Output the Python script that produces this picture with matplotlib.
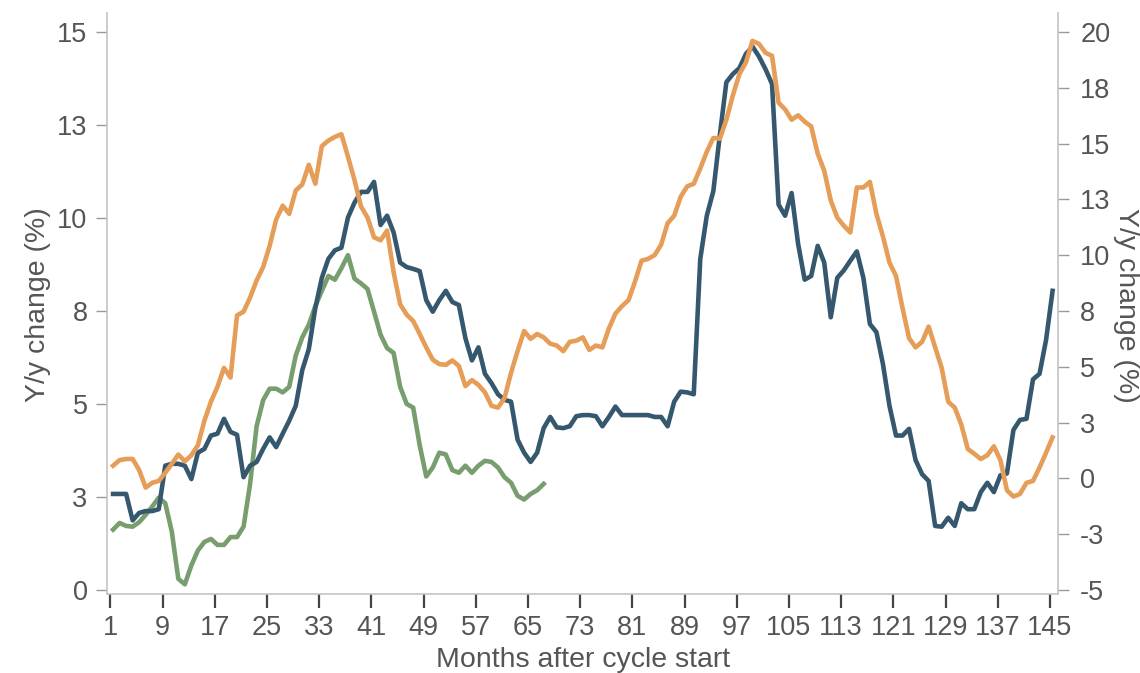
import numpy as np
import matplotlib
matplotlib.use('Agg')
import matplotlib.pyplot as plt
from matplotlib.ticker import FuncFormatter

plt.rcParams['font.family'] = ['Liberation Sans', 'DejaVu Sans']

# months after cycle start
months = np.arange(1, 146)
green_months = np.arange(1, 68)

blue = [
    2.58, 2.58, 2.58, 1.87, 2.07, 2.12, 2.12, 2.17, 3.34, 3.39,
    3.39, 3.34, 2.98, 3.69, 3.79, 4.15, 4.20, 4.60, 4.25, 4.17,
    3.03, 3.34, 3.44, 3.79, 4.10, 3.84, 4.20, 4.55, 4.95, 5.91,
    6.47, 7.58, 8.39, 8.90, 9.13, 9.20, 10.01, 10.41, 10.70, 10.70,
    10.97, 9.81, 10.06, 9.61, 8.80, 8.68, 8.63, 8.57, 7.79, 7.48,
    7.79, 8.04, 7.74, 7.66, 6.77, 6.17, 6.52, 5.81, 5.56, 5.26,
    5.11, 5.06, 4.04, 3.69, 3.44, 3.69, 4.35, 4.65, 4.37, 4.35,
    4.40, 4.67, 4.70, 4.70, 4.67, 4.40, 4.65, 4.93, 4.70, 4.70,
    4.70, 4.70, 4.70, 4.65, 4.65, 4.40, 5.06, 5.33, 5.31, 5.26,
    8.90, 10.06, 10.72, 12.23, 13.65, 13.87, 14.03, 14.41, 14.61, 14.34,
    14.00, 13.60, 10.36, 10.06, 10.67, 9.30, 8.34, 8.44, 9.25, 8.80,
    7.33, 8.39, 8.59, 8.85, 9.10, 8.39, 7.15, 6.93, 6.07, 4.95,
    4.15, 4.15, 4.33, 3.49, 3.11, 2.93, 1.72, 1.70, 1.94, 1.72,
    2.33, 2.17, 2.17, 2.63, 2.88, 2.63, 3.08, 3.13, 4.30, 4.57,
    4.60, 5.66, 5.81, 6.72, 8.04,
]

orange = [
    3.34, 3.49, 3.52, 3.52, 3.22, 2.75, 2.88, 2.93, 3.15, 3.39,
    3.64, 3.46, 3.62, 3.89, 4.55, 5.06, 5.46, 5.97, 5.71, 7.38,
    7.48, 7.86, 8.32, 8.68, 9.25, 9.96, 10.33, 10.11, 10.74, 10.90,
    11.43, 10.92, 11.93, 12.08, 12.18, 12.25, 11.65, 11.02, 10.31, 10.01,
    9.48, 9.40, 9.66, 8.54, 7.68, 7.40, 7.23, 6.88, 6.52, 6.19,
    6.07, 6.05, 6.17, 6.02, 5.48, 5.64, 5.51, 5.31, 4.95, 4.90,
    5.16, 5.84, 6.42, 6.96, 6.75, 6.88, 6.79, 6.62, 6.57, 6.42,
    6.67, 6.70, 6.79, 6.45, 6.57, 6.52, 7.03, 7.43, 7.63, 7.79,
    8.29, 8.85, 8.90, 9.00, 9.28, 9.86, 10.06, 10.57, 10.85, 10.92,
    11.33, 11.78, 12.15, 12.13, 12.64, 13.30, 13.87, 14.18, 14.76, 14.68,
    14.44, 14.36, 13.10, 12.92, 12.64, 12.76, 12.59, 12.46, 11.73, 11.27,
    10.47, 10.01, 9.79, 9.61, 10.82, 10.82, 10.97, 10.11, 9.50, 8.80,
    8.44, 7.58, 6.77, 6.52, 6.67, 7.08, 6.52, 5.97, 5.06, 4.90,
    4.45, 3.79, 3.66, 3.52, 3.62, 3.86, 3.49, 2.68, 2.51, 2.58,
    2.88, 2.93, 3.29, 3.69, 4.10,
]

green = [
    1.62, 1.80, 1.72, 1.70, 1.82, 2.02, 2.24, 2.48, 2.33, 1.57,
    0.30, 0.15, 0.66, 1.06, 1.29, 1.37, 1.21, 1.21, 1.42, 1.42,
    1.70, 2.85, 4.40, 5.10, 5.41, 5.41, 5.31, 5.46, 6.30, 6.79,
    7.13, 7.63, 8.04, 8.44, 8.34, 8.65, 9.00, 8.37, 8.24, 8.09,
    7.48, 6.86, 6.50, 6.37, 5.46, 5.00, 4.90, 3.89, 3.05, 3.29,
    3.69, 3.64, 3.22, 3.15, 3.34, 3.15, 3.34, 3.47, 3.44, 3.29,
    3.03, 2.88, 2.53, 2.43, 2.58, 2.68, 2.85,
]

x_ticks = np.arange(1, 146, 8)
left_ticks = np.arange(0, 15.1, 2.5)
right_ticks = np.arange(-5, 20.1, 2.5)

BLUE = '#36586f'
ORANGE = '#e59d58'
GREEN = '#789d6e'
TEXT = '#555555'
SPINE = '#c4c4c4'
TICK_FS = 19.5
LABEL_FS = 20.5


def half_up(v, pos=None):
    # labels are rounded half away from zero (2.5 -> 3, -2.5 -> -3)
    return '%d' % (np.sign(v) * np.floor(abs(v) + 0.5))


fig = plt.figure(figsize=(11.4, 6.73), dpi=100)
ax = fig.add_axes([107 / 1140, 79 / 673, 951 / 1140, 581 / 673])

ax.plot(green_months, green, color=GREEN, linewidth=3.3)
ax.plot(months, blue, color=BLUE, linewidth=3.3)
ax.plot(months, orange, color=ORANGE, linewidth=3.3)

ax.set_xlim(0.07, 145.83)
ax.set_ylim(-0.11, 15.51)

# tick marks sit a little left of the data points in the source chart
ax.set_xticks(x_ticks - 0.4)
ax.set_xticklabels([str(m) for m in x_ticks])
ax.set_yticks(left_ticks)
ax.yaxis.set_major_formatter(FuncFormatter(half_up))

for s in ['top', 'right']:
    ax.spines[s].set_visible(False)
for s in ['left', 'bottom']:
    ax.spines[s].set_color(SPINE)
    ax.spines[s].set_linewidth(1.2)

ax.tick_params(axis='y', length=8, width=1, color='#999999', labelcolor=TEXT,
               labelsize=TICK_FS, pad=6)
ax.tick_params(axis='x', length=10, width=1.6, color='#444444', labelcolor=TEXT,
               labelsize=TICK_FS, pad=5)

ax2 = ax.twinx()
ax2.set_ylim(-0.11 * 25 / 15 - 5, 15.51 * 25 / 15 - 5)
ax2.set_yticks(right_ticks)
ax2.yaxis.set_major_formatter(FuncFormatter(half_up))
for s in ['top', 'left', 'bottom']:
    ax2.spines[s].set_visible(False)
ax2.spines['right'].set_color(SPINE)
ax2.spines['right'].set_linewidth(1.2)
ax2.tick_params(axis='y', length=8, width=1, color='#999999', labelcolor=TEXT,
                labelsize=TICK_FS, pad=8)

# axis titles
fig.text(583 / 1140, 1 - 660 / 673, 'Months after cycle start', fontsize=LABEL_FS,
         color=TEXT, ha='center', va='center')
fig.text(38 / 1140, 1 - 305 / 673, 'Y/y change (%)', fontsize=LABEL_FS,
         color=TEXT, ha='center', va='center', rotation=90)
fig.text(1126 / 1140, 1 - 305 / 673, 'Y/y change (%)', fontsize=LABEL_FS,
         color=TEXT, ha='center', va='center', rotation=270)

fig.savefig('out.png', dpi=100, facecolor='w')
